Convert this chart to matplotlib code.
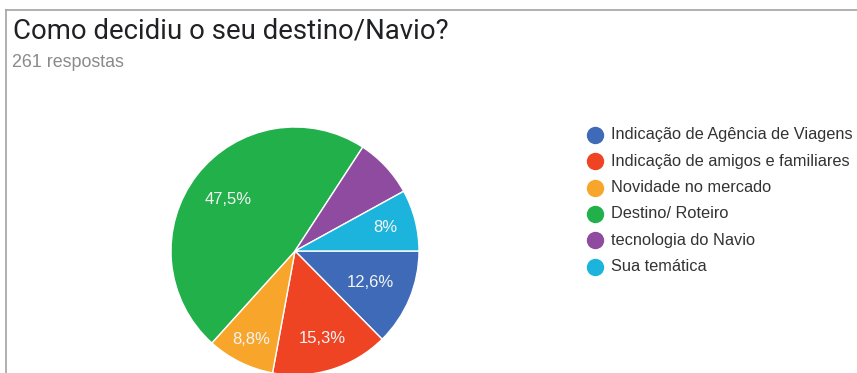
import matplotlib
matplotlib.use("Agg")
import matplotlib.pyplot as plt
from matplotlib.lines import Line2D
import numpy as np

# Survey answers (percent of 261 responses)
categories = [
    "Indicação de Agência de Viagens",
    "Indicação de amigos e familiares",
    "Novidade no mercado",
    "Destino/ Roteiro",
    "tecnologia do Navio",
    "Sua temática",
]
percentages = [12.6, 15.3, 8.8, 47.5, 7.8, 8.0]
show_value = [True, True, True, True, False, True]

title = "Como decidiu o seu destino/Navio?"
subtitle = "261 respostas"

colors = ["#3e6ab8", "#ee4423", "#f8a62b", "#22b04b", "#8e4b9f", "#1cb4dd"]
label_radius = [0.66, 0.74, 0.80, 0.68, 0.72, 0.75]

W, H = 857, 373
DPI = 100
plt.rcParams["font.family"] = ["Roboto", "DejaVu Sans"]
body_font = ["Liberation Sans", "DejaVu Sans"]

fig = plt.figure(figsize=(W / DPI, H / DPI), dpi=DPI)
fig.patch.set_facecolor("white")


def fx(px):
    return px / W


def fy(py):
    return 1 - py / H


# card border (top and left edges)
border = "#a9a9a9"
fig.add_artist(Line2D([fx(6), fx(W + 5)], [fy(10), fy(10)], color=border, lw=1.3))
fig.add_artist(Line2D([fx(6), fx(6)], [fy(10), fy(H + 5)], color=border, lw=1.3))

fig.text(fx(13), fy(38), title, fontsize=19.8, color="#202124", ha="left", va="baseline")
fig.text(fx(11.5), fy(67), subtitle, fontsize=12.9, color="#8a8a8a", ha="left",
         va="baseline", family=body_font)

# pie
cx, cy, r = 295, 251, 124
ax = fig.add_axes([fx(cx - r), fy(cy + r), (2 * r) / W, (2 * r) / H])
wedges, _ = ax.pie(
    percentages,
    colors=colors,
    startangle=0,
    counterclock=False,
    radius=1,
    wedgeprops=dict(edgecolor="white", linewidth=1.0),
)
ax.set_xlim(-1, 1)
ax.set_ylim(-1, 1)
ax.set_axis_off()

for w, v, show, rad in zip(wedges, percentages, show_value, label_radius):
    if not show:
        continue
    ang = np.deg2rad((w.theta1 + w.theta2) / 2)
    txt = ("%g" % v).replace(".", ",") + "%"
    ax.text(rad * np.cos(ang), rad * np.sin(ang), txt, ha="center", va="center",
            fontsize=12, color="#f4f4f4", family=body_font)

# legend
row0, step = 135, 26.3
for i, (lab, col) in enumerate(zip(categories, colors)):
    y = row0 + i * step
    fig.add_artist(Line2D([fx(595)], [fy(y)], marker="o", markersize=11.5,
                          markerfacecolor=col, markeredgecolor=col, linestyle="none"))
    fig.text(fx(611), fy(y), lab, fontsize=11.8, color="#333333", ha="left",
             va="center", family=body_font)

fig.savefig("out.png", dpi=DPI, facecolor="white")
